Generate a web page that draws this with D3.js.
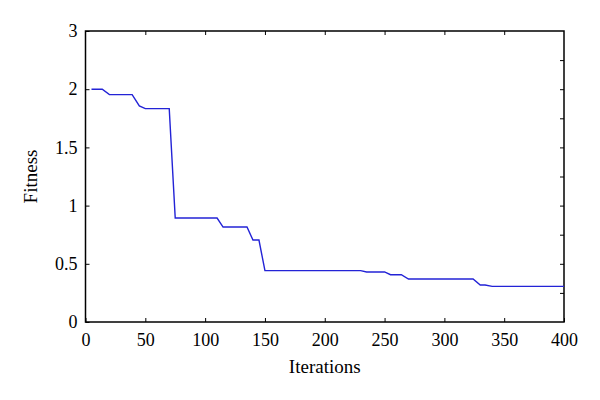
<!doctype html>
<html>
  <head>
    <meta charset="utf-8">
    <title>Fitness vs iterations</title>
    <script src="https://cdnjs.cloudflare.com/ajax/libs/d3/7.8.5/d3.min.js"></script>
    <style>
      body { margin: 0; background: #fff; }
    </style>
  </head>
  <body>
    <div id="chart"></div>
    <script>
      // values (line breakpoints)
      const iterations = [5, 14, 20, 39, 45, 50, 70, 75, 110, 115, 135, 140, 145, 150,
                          230, 235, 250, 255, 264, 270, 324, 330, 334, 340, 400];
      const fitness = [2.0, 2.0, 1.953, 1.953, 1.856, 1.833, 1.833, 0.893, 0.893, 0.816, 0.816,
                       0.704, 0.704, 0.441, 0.441, 0.43, 0.43, 0.406, 0.406, 0.369, 0.369,
                       0.318, 0.318, 0.306, 0.306];

      const xTicks = [0, 50, 100, 150, 200, 250, 300, 350, 400];
      const yTicks = [0, 0.5, 1, 1.5, 2, 2.5];
      const yTickLabels = ["0", "0.5", "1", "1.5", "2", "3"];
      const rightTicks = [0.25, 0.5, 0.75, 1, 1.25, 1.5, 1.75, 2, 2.25];

      const serif = '"Liberation Serif", "DejaVu Serif", "Times New Roman", serif';

      const width = 600, height = 400;
      const margin = { top: 31, right: 36, bottom: 78, left: 85.5 };
      const w = width - margin.left - margin.right;
      const h = height - margin.top - margin.bottom;

      const svg = d3.select('#chart')
        .append('svg')
        .attr('width', width)
        .attr('height', height);

      const g = svg.append('g')
        .attr('transform', `translate(${margin.left},${margin.top})`);

      const x = d3.scaleLinear().domain([0, 400]).range([0, w]);
      const y = d3.scaleLinear().domain([0, 2.5]).range([h, 0]);

      // bottom axis (ticks inside)
      const xAxis = g.append('g')
        .attr('transform', `translate(0,${h})`)
        .call(d3.axisBottom(x).tickValues(xTicks).tickSizeInner(-4).tickSizeOuter(0).tickPadding(11));
      xAxis.select('.domain').remove();

      // top axis ticks
      const xTop = g.append('g')
        .call(d3.axisTop(x).tickValues(xTicks.slice(1, -1)).tickSizeInner(-4).tickSizeOuter(0).tickFormat(''));
      xTop.select('.domain').remove();

      // left axis
      const yAxis = g.append('g')
        .call(d3.axisLeft(y).tickValues(yTicks).tickSizeInner(-4).tickSizeOuter(0).tickPadding(8)
          .tickFormat((d, i) => yTickLabels[i]));
      yAxis.select('.domain').remove();

      // right axis ticks
      const yRight = g.append('g')
        .attr('transform', `translate(${w},0)`)
        .call(d3.axisRight(y).tickValues(rightTicks).tickSizeInner(-4).tickSizeOuter(0).tickFormat(''));
      yRight.select('.domain').remove();

      g.selectAll('.tick line').attr('stroke', '#000').attr('stroke-width', 1);
      g.selectAll('.tick text')
        .attr('font-family', null)
        .style('font-family', serif)
        .style('font-size', '18px')
        .attr('fill', '#000');

      // frame
      g.append('rect')
        .attr('width', w).attr('height', h)
        .attr('fill', 'none').attr('stroke', '#000').attr('stroke-width', 1.5);

      // line
      const pts = iterations.map((d, i) => [d, fitness[i]]);
      g.append('path')
        .datum(pts)
        .attr('fill', 'none')
        .attr('stroke', '#2323d6')
        .attr('stroke-width', 1.4)
        .attr('d', d3.line().x(d => x(d[0])).y(d => y(d[1])));

      // axis titles
      svg.append('text')
        .attr('x', margin.left + w / 2)
        .attr('y', 373)
        .attr('text-anchor', 'middle')
        .style('font-family', serif)
        .style('font-size', '19px')
        .text('Iterations');

      svg.append('text')
        .attr('transform', `translate(37,${margin.top + h / 2}) rotate(-90)`)
        .attr('text-anchor', 'middle')
        .style('font-family', serif)
        .style('font-size', '19px')
        .text('Fitness');
    </script>
  </body>
</html>
